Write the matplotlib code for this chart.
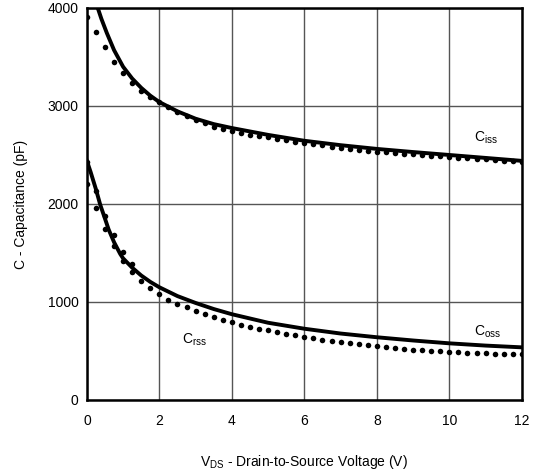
import numpy as np
import matplotlib
matplotlib.use("Agg")
from matplotlib import pyplot as plt

plt.rcParams['font.family'] = ['Liberation Sans', 'DejaVu Sans']
plt.rcParams['mathtext.default'] = 'regular'

# measured points, 0.25 V steps
vds_dots = np.arange(0, 12.01, 0.25)
ciss_dots = [3911, 3752, 3599, 3449, 3334, 3238, 3153, 3089, 3038, 2987, 2936, 2898,
             2857, 2823, 2789, 2762, 2740, 2724, 2708, 2693, 2680, 2665, 2650, 2636,
             2622, 2610, 2598, 2586, 2575, 2565, 2555, 2545, 2535, 2528, 2520, 2512,
             2505, 2498, 2491, 2485, 2478, 2472, 2466, 2461, 2455, 2449, 2443, 2438, 2432]
crss_dots = [2204, 1956, 1745, 1575, 1415, 1305, 1215, 1143, 1078, 1025, 980, 945,
             910, 877, 845, 816, 792, 770, 749, 729, 710, 693, 676, 660,
             645, 630, 617, 604, 592, 580, 569, 558, 547, 538, 530, 522,
             515, 508, 502, 496, 490, 486, 482, 478, 475, 472, 469, 467, 465]
vds_coss_dots = [0, 0.25, 0.5, 0.75, 1.0, 1.25]
coss_dots = [2429, 2130, 1880, 1680, 1515, 1390]

# model curves
vds_ciss = [0.30, 0.4, 0.55, 0.75, 1.0, 1.25, 1.5, 1.75, 2.0, 2.5, 3.0, 3.5, 4, 5, 6,
            7, 8, 9, 10, 11, 12]
ciss_line = [4000, 3890, 3745, 3570, 3400, 3280, 3185, 3105, 3040, 2945, 2870, 2815,
             2775, 2705, 2645, 2600, 2562, 2530, 2500, 2470, 2440]
vds_coss = [0, 0.1, 0.25, 0.37, 0.5, 0.6, 0.75, 0.92, 1.0, 1.25, 1.5, 1.75, 2, 2.5,
            3, 3.5, 4, 5, 6, 7, 8, 9, 10, 11, 12]
coss_line = [2440, 2330, 2150, 1990, 1850, 1740, 1610, 1490, 1445, 1350, 1270, 1205,
             1150, 1060, 990, 928, 875, 788, 727, 678, 640, 607, 578, 555, 537]

fig = plt.figure(figsize=(5.43, 4.70), dpi=100)
ax = fig.add_axes([0.160, 0.149, 0.801, 0.834])

ax.plot(vds_ciss, ciss_line, color='black', lw=2.8, solid_joinstyle='round')
ax.plot(vds_coss, coss_line, color='black', lw=2.8, solid_joinstyle='round')
ax.plot(vds_dots, ciss_dots, 'o', color='black', ms=4.0, mew=0)
ax.plot(vds_dots, crss_dots, 'o', color='black', ms=4.0, mew=0)
ax.plot(vds_coss_dots, coss_dots, 'o', color='black', ms=4.0, mew=0)

ax.text(11.0, 2673, '$C_{iss}$', fontsize=10, ha='center', va='center')
ax.text(11.05, 694, '$C_{oss}$', fontsize=10, ha='center', va='center')
ax.text(2.98, 612, '$C_{rss}$', fontsize=10, ha='center', va='center')

ax.set_xlim(0, 12)
ax.set_ylim(0, 4000)
ax.set_xticks(range(0, 13, 2))
ax.set_yticks(range(0, 4001, 1000))
ax.grid(True, color='#555555', lw=1.0)
ax.set_axisbelow(True)
ax.tick_params(length=0, labelsize=10)
ax.tick_params(axis='x', pad=10)
ax.tick_params(axis='y', pad=6)
for s in ax.spines.values():
    s.set_linewidth(1.8)

ax.set_xlabel('$V_{DS}$ - Drain-to-Source Voltage (V)', fontsize=10, labelpad=18)
ax.set_ylabel('C - Capacitance (pF)', fontsize=10, labelpad=14)

fig.savefig('out.png', dpi=100)
